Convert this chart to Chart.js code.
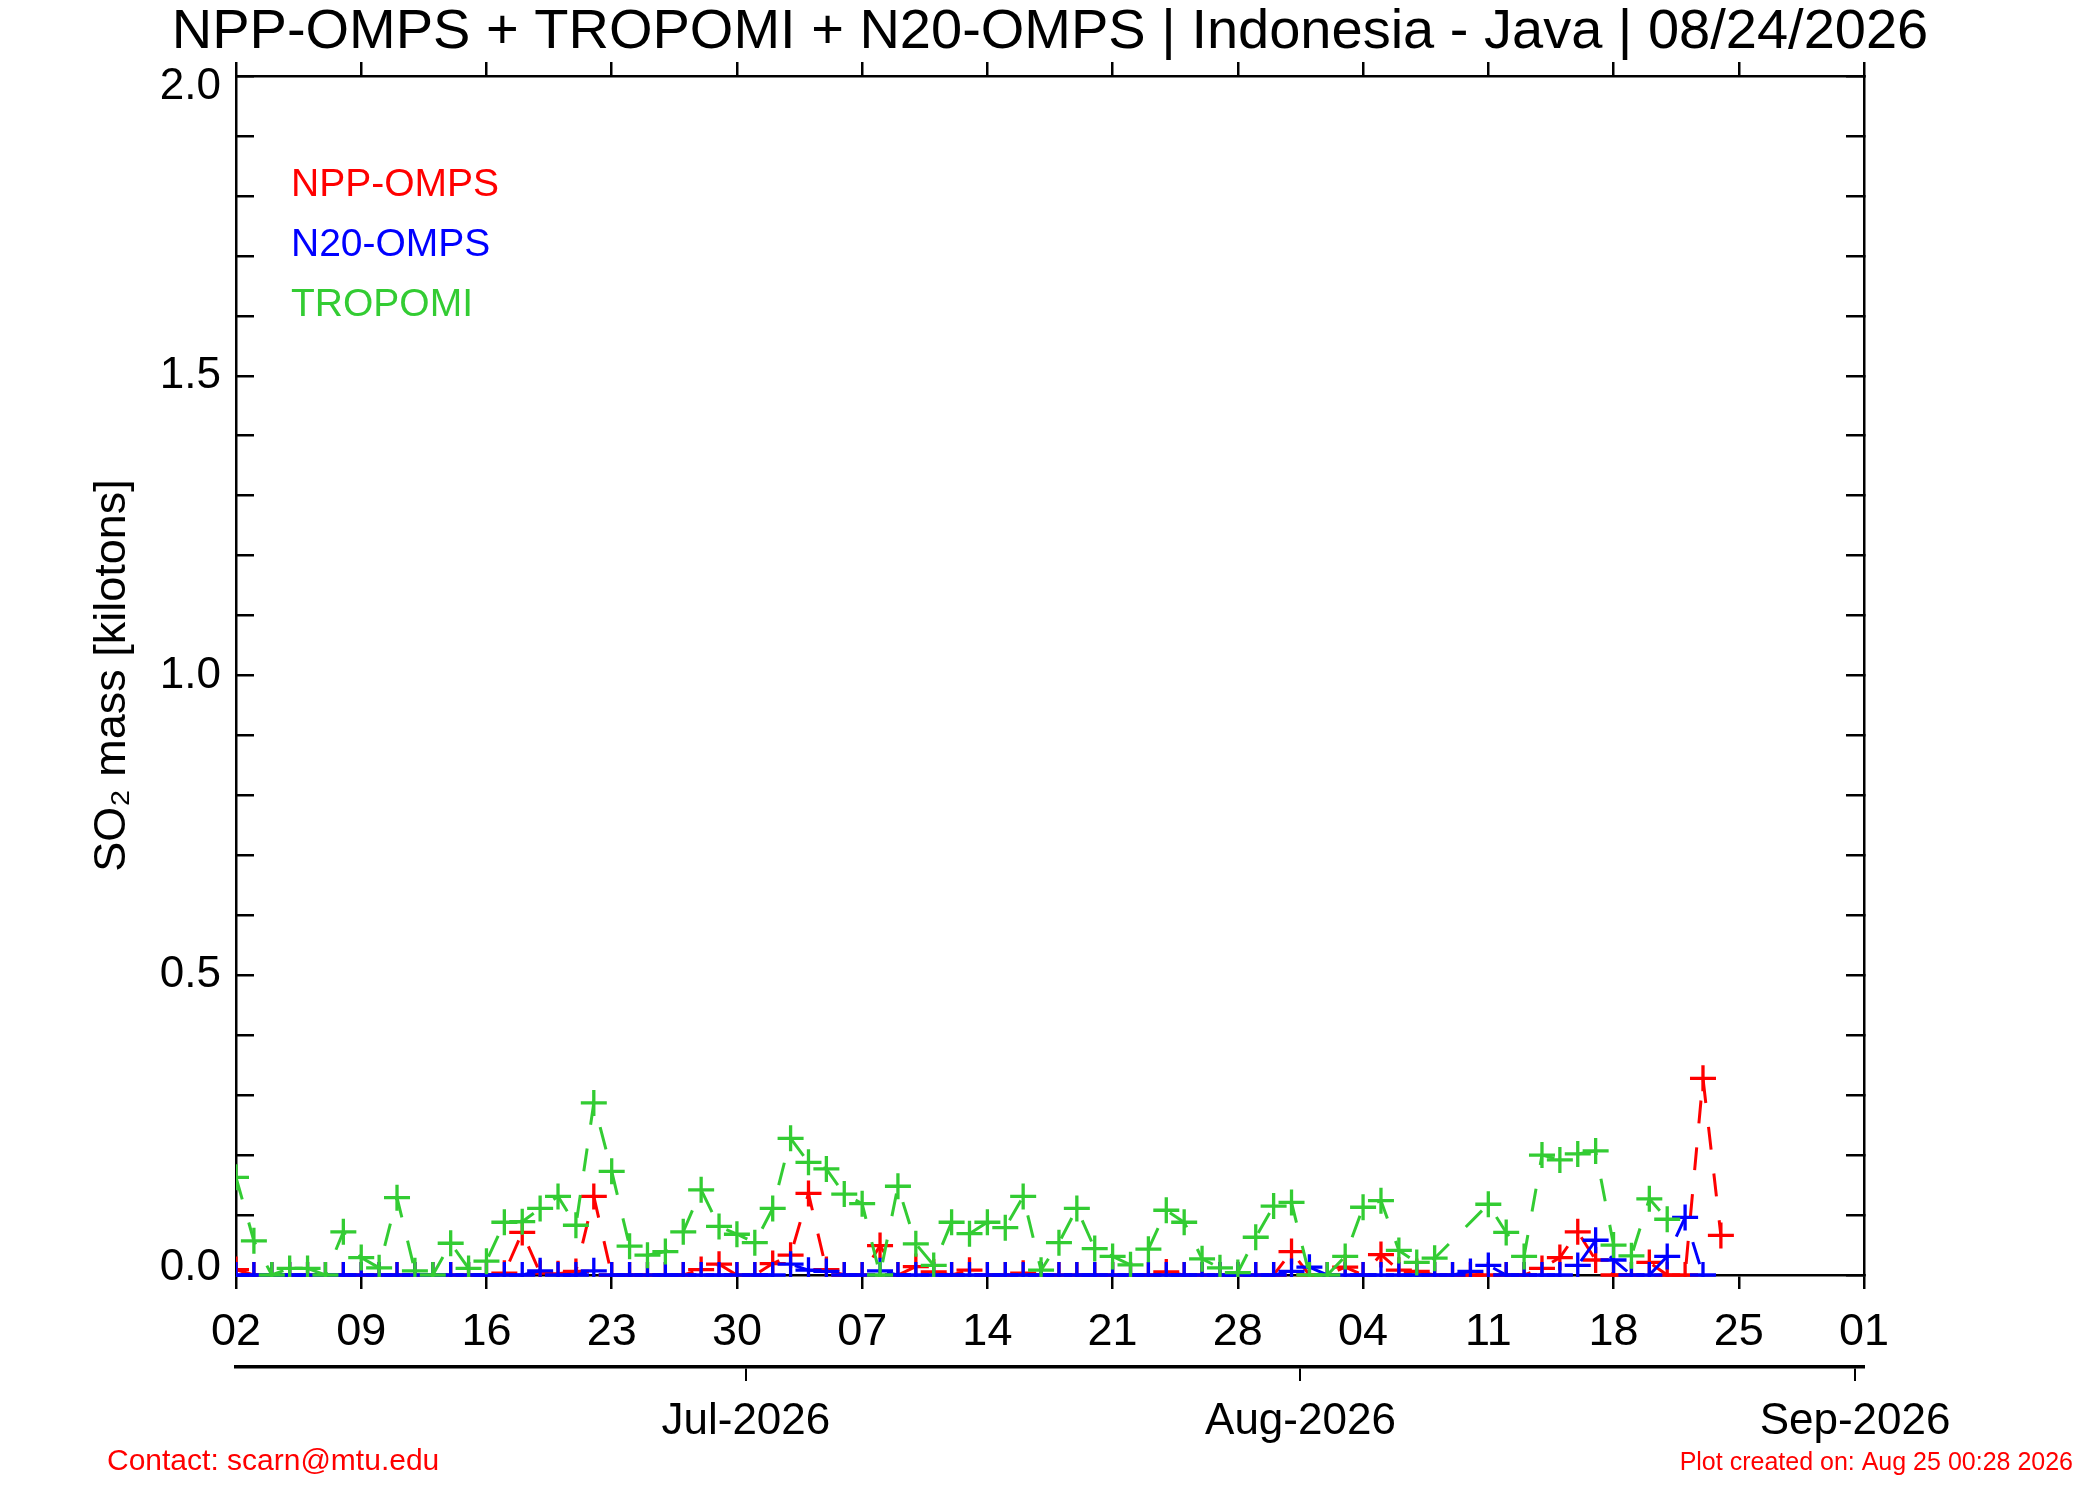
<!DOCTYPE html>
<html>
<head>
<meta charset="utf-8">
<script src="https://cdn.jsdelivr.net/npm/chart.js@4.4.1/dist/chart.umd.min.js"></script>
<style>
html,body{margin:0;padding:0;background:#ffffff;}
#wrap{width:2100px;height:1500px;position:relative;}
canvas{display:block;}
</style>
</head>
<body>
<div id="wrap"><canvas id="c" width="2100" height="1500"></canvas></div>
<script>
// ---------------- DATA ----------------
const chartTitle = 'NPP-OMPS + TROPOMI + N20-OMPS | Indonesia - Java | 08/24/2026';
const yAxisTitle = 'SO\u2082 mass [kilotons]';
const contactText = 'Contact: scarn@mtu.edu';
const createdText = 'Plot created on: Aug 25 00:28 2026';

// day index 0 = 2026-06-02, axis runs to day 91 = 2026-09-01
const xTickLabels = ['02','09','16','23','30','07','14','21','28','04','11','18','25','01'];
const monthLabels = ['Jul-2026','Aug-2026','Sep-2026'];
const monthTickDays = [29, 60, 91];
const yMajorLabels = ['0.0','0.5','1.0','1.5','2.0'];

const seriesNames = ['NPP-OMPS','N20-OMPS','TROPOMI'];

// NPP-OMPS, days 0..83
const nppValues = [
  0.009,0,0,0,0,0,0,0,0,0,
  0,0,0,0,0,0.003,0.071,0.003,0.002,0.006,
  0.131,0,0,0,0,0,0.009,0.018,0,0,
  0.019,0.033,0.136,0.009,0,0,0.049,0,0.014,0.005,
  0,0.008,0,0,0.003,0,0,0,0,0,
  0,0,0.005,0,0,0,0,0,0,0.039,
  0,0,0.013,0,0.034,0.008,0.006,0,0,0,
  0,0,0,0.011,0.029,0.072,0.025,0,0,0.021,
  0,0,0.328,0.066
];

// N20-OMPS, days 0..82
const n20Values = [
  0,0,0,0,0,0,0,0,0,0,
  0,0,0,0,0,0,0,0.007,0,0,
  0.007,0,0,0,0,0,0,0,0,0,
  0,0.018,0.008,0.006,0,0,0.007,0,0,0,
  0,0,0,0,0,0,0,0,0,0,
  0,0,0,0,0,0,0,0,0,0.006,
  0.013,0,0,0,0,0,0,0,0,0.006,
  0.016,0,0,0,0,0.016,0.058,0.025,0,0,
  0.031,0.096,0
];

// TROPOMI, days 0..80 (null = no observation)
const tropomiValues = [
  0.163,0.057,0,0.011,0.011,0,0.072,0.029,0.012,0.129,
  0.007,0,0.053,0.011,0.023,0.088,0.089,0.111,0.131,0.083,
  0.287,0.173,0.048,0.033,0.039,0.072,0.142,0.081,0.068,0.054,
  0.111,0.228,0.188,0.177,0.135,0.119,0,0.148,0.052,0.016,
  0.088,0.069,0.088,0.079,0.131,0.008,0.054,0.111,0.044,0.031,
  0.017,0.043,0.108,0.088,0.027,0.012,0.004,0.063,0.115,0.121,
  0,0,0.031,0.113,0.124,0.041,0.021,0.028,null,null,
  0.118,0.071,0.031,0.200,0.192,0.202,0.207,0.050,0.032,0.127,
  0.093
];

const seriesColors = ['#ff0000','#0000ff','#33cc33'];

// ---------------- HELPERS ----------------
const FAM = '"Liberation Sans", Arial, Helvetica, sans-serif';
function hasFont(name){
  const c = document.createElement('canvas').getContext('2d');
  const s = 'mmmmwwwiiilQ0123';
  c.font = '40px monospace'; const a = c.measureText(s).width;
  c.font = '40px "' + name + '", monospace'; const b = c.measureText(s).width;
  return Math.abs(a - b) > 0.5;
}
const narrowOK = hasFont('Liberation Sans Narrow');
const yTitleFont = narrowOK
  ? {family: '"Liberation Sans Narrow", ' + FAM, size: 53, lineHeight: 1}
  : {family: FAM, size: 45, lineHeight: 1};

function toPoints(arr){
  const out = [];
  arr.forEach((v, i) => { if (v !== null) out.push({x: i, y: v}); });
  return out;
}
const yTickVals = [];
for (let k = 0; k <= 20; k++) yTickVals.push(k / 10);
const isMajor = v => Math.abs(v * 2 - Math.round(v * 2)) < 1e-6;

const common = {
  borderWidth: 3,
  borderDash: [23, 24],
  pointStyle: 'cross',
  pointRadius: 13,
  pointHoverRadius: 13,
  pointBorderWidth: 3.3,
  tension: 0,
  fill: false,
  spanGaps: true,
  clip: {left: 0, top: 0, right: 0, bottom: 2},
  xAxisID: 'x',
  yAxisID: 'y'
};
const valueArrays = [nppValues, n20Values, tropomiValues];
const drawOrder = [2, 1, 0];
const datasets = seriesNames.map((name, i) => Object.assign({}, common, {
  label: name,
  data: toPoints(valueArrays[i]),
  borderColor: seriesColors[i],
  backgroundColor: seriesColors[i],
  pointBorderColor: seriesColors[i],
  pointBackgroundColor: seriesColors[i],
  order: drawOrder[i]
}));

const axisLine = {display: true, color: '#000000', width: 2.5};
const weeklyTicks = s => { s.ticks = xTickLabels.map((l, i) => ({value: i * 7})); };
const yTicks = s => { s.ticks = yTickVals.map(v => ({value: v})); };

const textPlugin = {
  id: 'extraTexts',
  afterDraw(chart) {
    const ctx = chart.ctx;
    const area = chart.chartArea;
    ctx.save();
    ctx.textAlign = 'left';
    ctx.textBaseline = 'alphabetic';
    ctx.font = '39px ' + FAM;
    chart.data.datasets.forEach((ds, i) => {
      ctx.fillStyle = ds.borderColor;
      ctx.fillText(ds.label, area.left + 55, area.top + 120 + 60 * i);
    });
    ctx.fillStyle = '#ff0000';
    ctx.font = '30px ' + FAM;
    ctx.fillText(contactText, 107, 1470);
    ctx.textAlign = 'right';
    ctx.font = '25px ' + FAM;
    ctx.fillText(createdText, 2073, 1470);
    ctx.restore();
  }
};

new Chart(document.getElementById('c'), {
  type: 'line',
  data: {datasets: datasets},
  plugins: [textPlugin],
  options: {
    responsive: false,
    animation: false,
    devicePixelRatio: 1,
    events: [],
    layout: {padding: 0},
    plugins: {
      legend: {display: false},
      tooltip: {enabled: false},
      title: {
        display: true,
        text: chartTitle,
        color: '#000000',
        font: {family: FAM, size: 56, weight: 'normal', lineHeight: 1},
        padding: {top: 5, bottom: 0}
      }
    },
    scales: {
      x: {
        type: 'linear', position: 'bottom', min: 0, max: 91, weight: 0,
        afterBuildTicks: weeklyTicks,
        afterFit: s => { s.height = 92; },
        grid: {drawOnChartArea: false, drawTicks: true, tickLength: 14, color: '#000000', lineWidth: 2.5},
        border: axisLine,
        ticks: {
          autoSkip: false, maxRotation: 0, minRotation: 0, padding: 21, color: '#000000',
          font: {family: FAM, size: 45, lineHeight: 1},
          callback: (v, i) => xTickLabels[i]
        }
      },
      xm: {
        type: 'linear', position: 'bottom', min: 0.5, max: 91.5, weight: 1,
        afterBuildTicks: s => { s.ticks = monthTickDays.map(d => ({value: d})); },
        afterFit: s => { s.height = 133; },
        grid: {drawOnChartArea: false, drawTicks: true, tickLength: 14, color: '#000000', lineWidth: 2},
        border: {display: true, color: '#000000', width: 3.5},
        ticks: {
          autoSkip: false, maxRotation: 0, minRotation: 0, padding: 19, color: '#000000',
          font: {family: FAM, size: 44, lineHeight: 1},
          callback: (v, i) => monthLabels[i]
        }
      },
      xTop: {
        type: 'linear', position: 'top', min: 0, max: 91, weight: 0,
        afterBuildTicks: weeklyTicks,
        afterFit: s => { s.height = 15; },
        grid: {drawOnChartArea: false, drawTicks: true, tickLength: 14, color: '#000000', lineWidth: 2.5},
        border: axisLine,
        ticks: {display: false, autoSkip: false}
      },
      y: {
        type: 'linear', position: 'left', min: 0, max: 2,
        afterBuildTicks: yTicks,
        afterFit: s => { s.width = 236; },
        grid: {drawOnChartArea: false, drawTicks: true, tickLength: -18, color: '#000000', lineWidth: 2.5},
        border: axisLine,
        ticks: {
          autoSkip: false, padding: 33, color: '#000000',
          font: c => {
            const v = c.tick ? c.tick.value : 1;
            if (Math.abs(v - 2) < 1e-6) return {family: FAM, size: 44, lineHeight: '22px'};
            if (Math.abs(v) < 1e-6) return {family: FAM, size: 44, lineHeight: '14px'};
            return {family: FAM, size: 44, lineHeight: 1};
          },
          callback: v => {
            if (!isMajor(v)) return '';
            const lab = yMajorLabels[Math.round(v * 2)];
            if (Math.abs(v - 2) < 1e-6) return ['', lab];
            if (Math.abs(v) < 1e-6) return [lab, ''];
            return lab;
          }
        },
        title: {
          display: true, text: yAxisTitle, color: '#000000',
          font: yTitleFont,
          padding: {top: 113 - yTitleFont.size / 2, bottom: 0}
        }
      },
      y2: {
        type: 'linear', position: 'right', min: 0, max: 2,
        afterBuildTicks: yTicks,
        afterFit: s => { s.width = 236; },
        grid: {drawOnChartArea: false, drawTicks: true, tickLength: -18, color: '#000000', lineWidth: 2.5},
        border: axisLine,
        ticks: {display: false, autoSkip: false}
      }
    }
  }
});
</script>
</body>
</html>
